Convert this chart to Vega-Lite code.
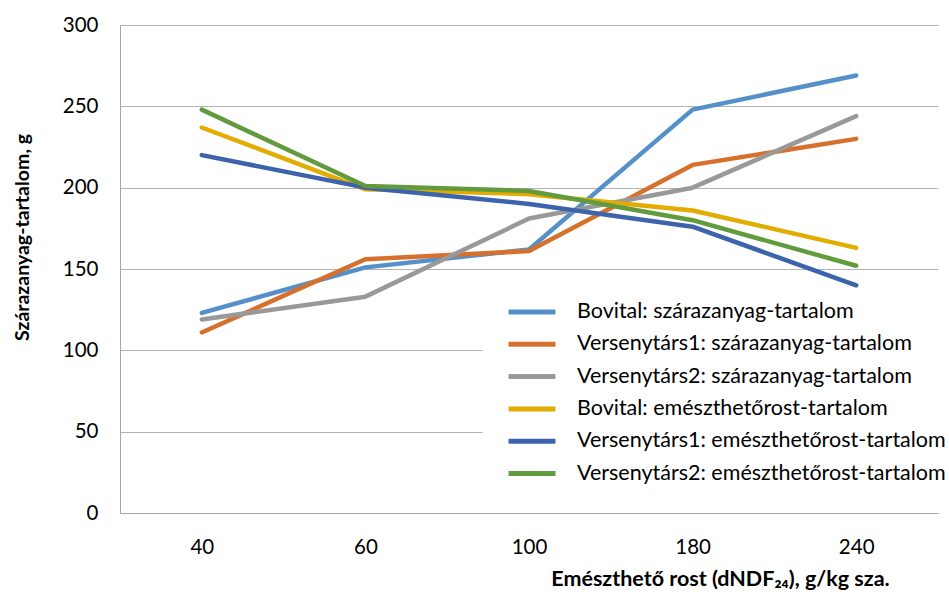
{
  "$schema": "https://vega.github.io/schema/vega-lite/v6.json",
  "autosize": {"type": "none"},
  "padding": {"left": 120, "top": 25, "right": 11, "bottom": 81},
  "width": 818,
  "height": 488,
  "background": "white",
  "data": {
    "values": [
      {"sorozat": "Bovital: szárazanyag-tartalom", "rost": 40, "ertek": 123},
      {"sorozat": "Bovital: szárazanyag-tartalom", "rost": 60, "ertek": 151},
      {"sorozat": "Bovital: szárazanyag-tartalom", "rost": 100, "ertek": 162},
      {"sorozat": "Bovital: szárazanyag-tartalom", "rost": 180, "ertek": 248},
      {"sorozat": "Bovital: szárazanyag-tartalom", "rost": 240, "ertek": 269},
      {"sorozat": "Versenytárs1: szárazanyag-tartalom", "rost": 40, "ertek": 111},
      {"sorozat": "Versenytárs1: szárazanyag-tartalom", "rost": 60, "ertek": 156},
      {"sorozat": "Versenytárs1: szárazanyag-tartalom", "rost": 100, "ertek": 161},
      {"sorozat": "Versenytárs1: szárazanyag-tartalom", "rost": 180, "ertek": 214},
      {"sorozat": "Versenytárs1: szárazanyag-tartalom", "rost": 240, "ertek": 230},
      {"sorozat": "Versenytárs2: szárazanyag-tartalom", "rost": 40, "ertek": 119},
      {"sorozat": "Versenytárs2: szárazanyag-tartalom", "rost": 60, "ertek": 133},
      {"sorozat": "Versenytárs2: szárazanyag-tartalom", "rost": 100, "ertek": 181},
      {"sorozat": "Versenytárs2: szárazanyag-tartalom", "rost": 180, "ertek": 200},
      {"sorozat": "Versenytárs2: szárazanyag-tartalom", "rost": 240, "ertek": 244},
      {"sorozat": "Bovital: emészthetőrost-tartalom", "rost": 40, "ertek": 237},
      {"sorozat": "Bovital: emészthetőrost-tartalom", "rost": 60, "ertek": 199},
      {"sorozat": "Bovital: emészthetőrost-tartalom", "rost": 100, "ertek": 196},
      {"sorozat": "Bovital: emészthetőrost-tartalom", "rost": 180, "ertek": 186},
      {"sorozat": "Bovital: emészthetőrost-tartalom", "rost": 240, "ertek": 163},
      {"sorozat": "Versenytárs1: emészthetőrost-tartalom", "rost": 40, "ertek": 220},
      {"sorozat": "Versenytárs1: emészthetőrost-tartalom", "rost": 60, "ertek": 200},
      {"sorozat": "Versenytárs1: emészthetőrost-tartalom", "rost": 100, "ertek": 190},
      {"sorozat": "Versenytárs1: emészthetőrost-tartalom", "rost": 180, "ertek": 176},
      {"sorozat": "Versenytárs1: emészthetőrost-tartalom", "rost": 240, "ertek": 140},
      {"sorozat": "Versenytárs2: emészthetőrost-tartalom", "rost": 40, "ertek": 248},
      {"sorozat": "Versenytárs2: emészthetőrost-tartalom", "rost": 60, "ertek": 201},
      {"sorozat": "Versenytárs2: emészthetőrost-tartalom", "rost": 100, "ertek": 198},
      {"sorozat": "Versenytárs2: emészthetőrost-tartalom", "rost": 180, "ertek": 180},
      {"sorozat": "Versenytárs2: emészthetőrost-tartalom", "rost": 240, "ertek": 152}
    ]
  },
  "mark": {"type": "line", "strokeWidth": 4.5, "strokeCap": "round", "strokeJoin": "round"},
  "encoding": {
    "x": {
      "field": "rost",
      "type": "ordinal",
      "sort": [40, 60, 100, 180, 240],
      "scale": {"type": "point", "padding": 0.5},
      "axis": {
        "title": "Emészthető rost (dNDF₂₄), g/kg sza.",
        "titleFont": "Lato",
        "titleFontSize": 21.5,
        "titleFontWeight": "bold",
        "titleColor": "#000000",
        "titleX": 600,
        "titleY": 55,
        "titleAlign": "center",
        "titleBaseline": "top",
        "labelAngle": 0,
        "labelFont": "Lato",
        "labelFontSize": 20.5,
        "labelColor": "#000000",
        "labelPadding": 24,
        "ticks": false,
        "tickSize": 0,
        "grid": false,
        "domainColor": "#A6A6A6",
        "domainWidth": 1
      }
    },
    "y": {
      "field": "ertek",
      "type": "quantitative",
      "scale": {"domain": [0, 300]},
      "axis": {
        "title": "Szárazanyag-tartalom, g",
        "titleFont": "Lato",
        "titleFontSize": 19.5,
        "titleFontWeight": "bold",
        "titleColor": "#000000",
        "titleX": -98,
        "titleY": 212,
        "titleAlign": "center",
        "titleBaseline": "middle",
        "values": [0, 50, 100, 150, 200, 250, 300],
        "labelFont": "Lato",
        "labelFontSize": 20.5,
        "labelColor": "#000000",
        "labelPadding": 22,
        "ticks": false,
        "tickSize": 0,
        "grid": true,
        "gridColor": "#B3B3B3",
        "gridWidth": 1,
        "domainColor": "#A6A6A6",
        "domainWidth": 1
      }
    },
    "color": {
      "field": "sorozat",
      "type": "nominal",
      "scale": {
        "domain": [
          "Bovital: szárazanyag-tartalom",
          "Versenytárs1: szárazanyag-tartalom",
          "Versenytárs2: szárazanyag-tartalom",
          "Bovital: emészthetőrost-tartalom",
          "Versenytárs1: emészthetőrost-tartalom",
          "Versenytárs2: emészthetőrost-tartalom"
        ],
        "range": ["#5590C8", "#D8702D", "#999999", "#E3AC00", "#3D63AD", "#629A3E"]
      },
      "legend": {
        "title": null,
        "orient": "none",
        "legendX": 363,
        "legendY": 267,
        "fillColor": "white",
        "padding": 5,
        "symbolOffset": 18,
        "symbolType": "stroke",
        "symbolSize": 2200,
        "symbolStrokeWidth": 5,
        "clipHeight": 30,
        "labelFont": "Lato",
        "labelFontSize": 21.5,
        "labelColor": "#000000",
        "labelOffset": 19,
        "labelLimit": 500,
        "rowPadding": 2.3
      }
    }
  },
  "config": {"view": {"stroke": null}}
}
